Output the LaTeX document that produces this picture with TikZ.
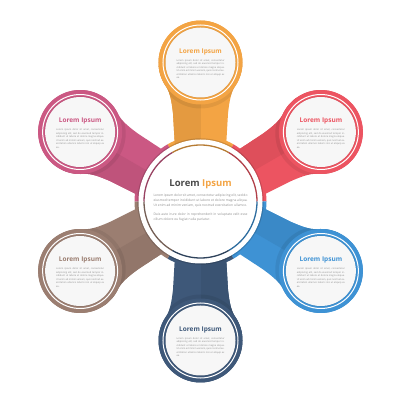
\documentclass[tikz,border=0pt]{standalone}
\usepackage{fontspec}
\setmainfont{Open Sans}
\definecolor{cOrange}{HTML}{F3A444}
\definecolor{cRed}{HTML}{EC5461}
\definecolor{cBlue}{HTML}{3E92D4}
\definecolor{cNavy}{HTML}{3E5879}
\definecolor{cBrown}{HTML}{9B7E71}
\definecolor{cPink}{HTML}{CB5883}
\definecolor{cDark}{HTML}{4A4A4A}
\definecolor{cText}{HTML}{8C8C8C}
\tikzset{
  petalshape/.style={insert path={(45,-25) -- (88,-27.5) .. controls (96,-28.4) and (108.3,-29.8) .. (114.9,-34.4) arc[start angle=-125,end angle=125,radius=42] .. controls (108.3,29.8) and (96,28.4) .. (88,27.5) -- (45,25) -- cycle}},
  ptitle/.style={anchor=base, inner sep=0pt, font=\fontsize{6.5}{7}\selectfont\bfseries},
  pbody/.style={anchor=north, inner sep=0pt, text width=48pt, align=justify, text=cText, font=\fontsize{2.4}{3.5}\selectfont},
  cbodystyle/.style={anchor=north, inner sep=0pt, text width=94pt, align=justify, text=cText, font=\fontsize{3.3}{5}\selectfont}
}
\newcommand{\petaltext}{Lorem ipsum dolor sit amet, consectetur adipiscing elit, sed do eiusmod tempor incididunt ut labore et dolore magna aliqua. Ut enim ad minim veniam, quis nostrud exercitation ullamco laboris nisi ut aliquip ex ea.}
\begin{document}
\begin{tikzpicture}[x=1pt,y=1pt]
\useasboundingbox (0,0) rectangle (400,400);
\fill[white] (0,0) rectangle (400,400);
\coordinate (C) at (200.5,198.5);
% colored central disc sectors
\foreach \a/\col in {90/cOrange,30/cRed,-30/cBlue,-90/cNavy,-150/cBrown,150/cPink}{
  \fill[\col] (C) -- ++(\a-30:66) arc[start angle=\a-30,end angle=\a+30,radius=66] -- cycle;
}
% petals
\foreach \a/\col in {90/cOrange,30/cRed,-30/cBlue,-90/cNavy,-150/cBrown,150/cPink}{
  \begin{scope}[shift={(C)},rotate=\a]
    \fill[\col, petalshape];
    \begin{scope}
      \clip[petalshape];
      \fill[\col!94!black] (40,0) rectangle (135,50);
      \fill[black,opacity=.07] (136,0) circle (43);
    \end{scope}
    \fill[\col] (139,0) circle (42);
    \draw[white, line width=1] (139,0) circle (37.5);
    \fill[\col!70!black, opacity=.3] (139,0) circle (35.6);
    \fill[white!97!black] (139,0) circle (35);
  \end{scope}
}
% central white disc
\fill[black,opacity=.15] (C) circle (63.2);
\fill[white] (C) circle (62);
\foreach \a/\col in {90/cOrange,30/cRed,-30/cBlue,-90/cNavy,-150/cBrown,150/cPink}{
  \draw[\col!75!black, line width=1.3] (C) ++(\a-30:56.5) arc[start angle=\a-30,end angle=\a+30,radius=56.5];
}
% petal texts
\foreach \a/\col/\n in {90/cOrange/1,30/cRed/2,-30/cBlue/3,-90/cNavy/4,-150/cBrown/5,150/cPink/6}{
  \path (C) ++(\a:139) coordinate (p\n);
  \node[ptitle, text=\col] (t\n) at ([yshift=9.2pt]p\n) {Lorem Ipsum};
  \node[pbody] (b\n) at ([yshift=3.5pt]p\n) {\petaltext};
}
% center texts
\node[anchor=base, inner sep=0pt, font=\fontsize{9.5}{10}\selectfont\bfseries] (ctitle) at (200.5,213.6) {\textcolor{cDark}{Lorem} \textcolor{cOrange}{Ipsum}};
\node[cbodystyle] (cbody) at (200.5,206.7) {Lorem ipsum dolor sit amet, consectetur adipiscing elit, sed do eiusmod tempor incididunt ut labore et dolore magna aliqua. Ut enim ad minim veniam, quis nostrud exercitation ullamco.\par\vspace{4pt}Duis aute irure dolor in reprehenderit in voluptate velit esse cillum dolore eu fugiat nulla pariatur.};
\end{tikzpicture}
\end{document}
